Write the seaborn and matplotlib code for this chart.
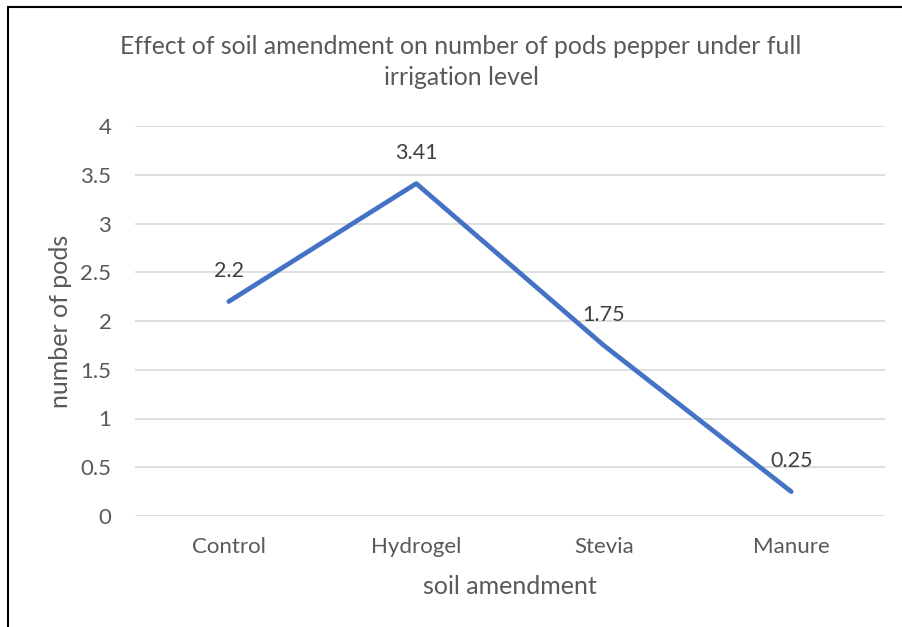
import matplotlib
matplotlib.use("Agg")
import matplotlib.pyplot as plt
import seaborn as sns
import pandas as pd
from matplotlib.lines import Line2D

categories = ["Control", "Hydrogel", "Stevia", "Manure"]
values = [2.2, 3.41, 1.75, 0.25]
value_labels = ["2.2", "3.41", "1.75", "0.25"]
yticks = [0, 0.5, 1, 1.5, 2, 2.5, 3, 3.5, 4]
ytick_labels = ["0", "0.5", "1", "1.5", "2", "2.5", "3", "3.5", "4"]

sns.set_theme(style="white")
plt.rcParams['font.family'] = ['Lato', 'DejaVu Sans']

df = pd.DataFrame({"amend": categories, "pods": values})

fig = plt.figure(figsize=(9.02, 6.27), dpi=100)
ax = fig.add_axes([135/902, 1 - 516/627, (885-135)/902, (516-126)/627])

sns.lineplot(data=df, x="amend", y="pods", ax=ax, color="#4472C4",
             linewidth=3.4, solid_capstyle="round", sort=False)

ax.set_xlim(-0.5, 3.5)
ax.set_ylim(0, 4)
ax.set_yticks(yticks)
ax.set_yticklabels(ytick_labels)
ax.yaxis.grid(True, color="#D9D9D9", linewidth=1.2)
ax.set_axisbelow(True)
for s in ax.spines.values():
    s.set_visible(False)
ax.tick_params(axis="both", length=0, labelsize=16, colors="#595959")
ax.tick_params(axis="x", pad=15)
ax.tick_params(axis="y", pad=17)

for i, (v, lab) in enumerate(zip(values, value_labels)):
    ax.annotate(lab, (i, v), xytext=(0, 22), textcoords="offset points",
                ha="center", va="center", fontsize=15.5, color="#404040")

ax.set_xlabel("soil amendment", fontsize=18, color="#595959", labelpad=13)
ax.set_ylabel("number of pods", fontsize=18, color="#595959", labelpad=6)

fig.text(461/902, 1 - 62/627,
         "Effect of soil amendment on number of pods pepper under full\nirrigation level",
         ha="center", va="center", fontsize=17.8, color="#595959", linespacing=1.4)

# chart border (top and left visible)
fig.add_artist(Line2D([8/902, 8/902], [0, 1 - 7/627], transform=fig.transFigure, color="black", linewidth=1.5))
fig.add_artist(Line2D([8/902, 1], [1 - 7/627, 1 - 7/627], transform=fig.transFigure, color="black", linewidth=1.5))

fig.savefig("out.png", dpi=100)
